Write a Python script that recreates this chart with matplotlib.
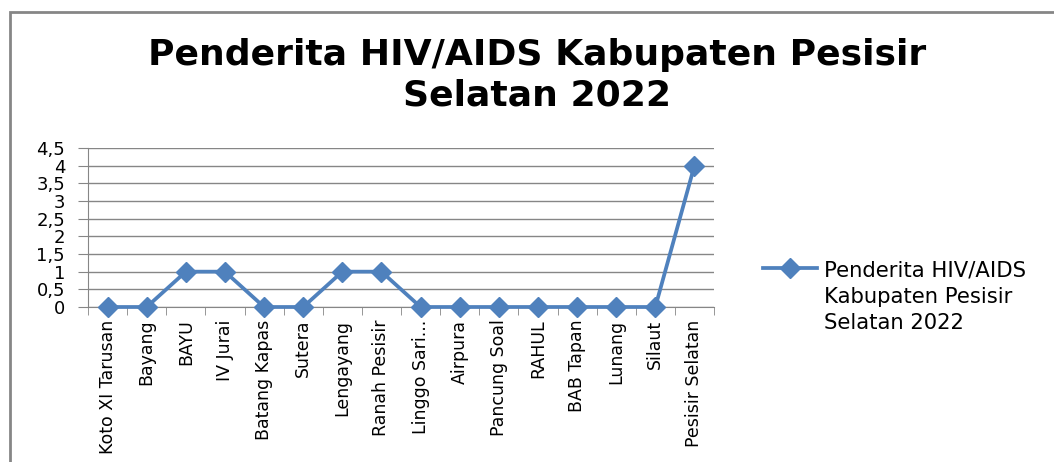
import matplotlib
matplotlib.use('Agg')
import matplotlib.pyplot as plt
from matplotlib.patches import Rectangle
import numpy as np

kecamatan = ['Koto XI Tarusan', 'Bayang', 'BAYU', 'IV Jurai', 'Batang Kapas', 'Sutera',
             'Lengayang', 'Ranah Pesisir', 'Linggo Sari...', 'Airpura', 'Pancung Soal',
             'RAHUL', 'BAB Tapan', 'Lunang', 'Silaut', 'Pesisir Selatan']
penderita = [0, 0, 1, 1, 0, 0, 1, 1, 0, 0, 0, 0, 0, 0, 0, 4]
y_ticks = [0, 0.5, 1, 1.5, 2, 2.5, 3, 3.5, 4, 4.5]
y_labels = ['0', '0,5', '1', '1,5', '2', '2,5', '3', '3,5', '4', '4,5']
series_name = 'Penderita HIV/AIDS\nKabupaten Pesisir\nSelatan 2022'
title = 'Penderita HIV/AIDS Kabupaten Pesisir\nSelatan 2022'

W, H = 1054, 462
fig = plt.figure(figsize=(W / 100, H / 100), dpi=100)
ax = fig.add_axes([88 / W, 1 - 307 / H, (714 - 88) / W, (307 - 148) / H])

grey = '#868686'
blue = '#4F81BD'
x = np.arange(len(kecamatan))
ax.plot(x, penderita, color=blue, lw=2.7, marker='D', markersize=10.5,
        label=series_name, zorder=3, clip_on=False)

ax.set_xlim(-0.5, len(kecamatan) - 0.5)
ax.set_ylim(0, 4.5)
ax.set_yticks(y_ticks)
ax.set_yticklabels(y_labels, fontsize=13, family='DejaVu Sans')
ax.yaxis.grid(True, color=grey, lw=1)
ax.tick_params(axis='y', length=7.5, color=grey, pad=9)

ax.set_xticks(x)
ax.set_xticklabels(kecamatan, rotation=90, fontsize=12.5,
                   family=['Liberation Sans Narrow', 'DejaVu Sans Condensed', 'DejaVu Sans'])
ax.set_xticks(np.arange(len(kecamatan) + 1) - 0.5, minor=True)
ax.tick_params(axis='x', which='major', length=0, pad=9)
ax.tick_params(axis='x', which='minor', length=6, color=grey)

for s in ['top', 'right']:
    ax.spines[s].set_visible(False)
for s in ['left', 'bottom']:
    ax.spines[s].set_color(grey)
ax.set_axisbelow(True)

fig.text(537 / W, 1 - 75 / H, title, ha='center', va='center', fontsize=26,
         fontweight='bold', family='DejaVu Sans', linespacing=1.25)

leg = ax.legend(loc='center left', bbox_to_anchor=(752 / W, 1 - 297 / H),
                bbox_transform=fig.transFigure, frameon=False, fontsize=15.2,
                handlelength=2.6, handletextpad=0.3, borderpad=0, labelspacing=0)
for t in leg.get_texts():
    t.set_linespacing(1.4)
for col in leg._legend_handle_box.get_children():
    for row in col.get_children():
        row.align = 'top'

fig.add_artist(Rectangle((10 / W, -0.1), 1.2, 1 - 12 / H + 0.1, transform=fig.transFigure,
                         fill=False, edgecolor=grey, lw=2))

fig.savefig('out.png', dpi=100)
